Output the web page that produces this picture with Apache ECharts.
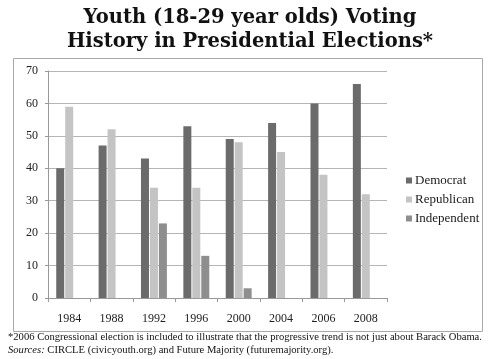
<!DOCTYPE html>
<html><head><meta charset="utf-8">
<script src="https://cdn.jsdelivr.net/npm/echarts@6/dist/echarts.min.js"></script>
<style>html,body{margin:0;padding:0;background:#fff}#c{width:500px;height:359px}</style>
</head><body><div id="c"></div>
<script>
var categories = ['1984','1988','1992','1996','2000','2004','2006','2008'];
var democrat = [40, 47, 43, 53, 49, 54, 60, 66];
var republican = [59, 52, 34, 34, 48, 45, 38, 32];
var independent = [null, null, 23, 13, 3, null, null, null];
var yTicks = [0,10,20,30,40,50,60,70];

var serif = '"Liberation Serif", "DejaVu Serif", serif';
var chart = echarts.init(document.getElementById('c'), null, {renderer:'canvas'});
chart.setOption({
  backgroundColor: '#fff',
  animation: false,
  textStyle: {fontFamily: serif, color: '#222'},
  graphic: [
    {type:'rect', shape:{x:13.5, y:58.5, width:469, height:273}, style:{fill:'none', stroke:'#a8a8a8', lineWidth:1}, z:-1},
    {type:'text', left:'center', top:6, style:{text:'Youth (18-29 year olds) Voting\nHistory in Presidential Elections*', font:'bold 19.5px "DejaVu Serif", serif', fill:'#111', textAlign:'center', lineHeight:24}},
    {type:'text', left:8, top:331, style:{
      text:'*2006 Congressional election is included to illustrate that the progressive trend is not just about Barack Obama.\n{i|Sources:} CIRCLE (civicyouth.org) and Future Majority (futuremajority.org).',
      font:'10.6px '+serif, fill:'#111', lineHeight:13,
      rich:{i:{fontStyle:'italic', fontSize:10.6, fontFamily:serif, fill:'#111'}}}}
  ],
  legend: {
    orient:'vertical', left:401, top:169, itemWidth:6, itemHeight:6, itemGap:6, icon:'rect',
    textStyle:{fontFamily:serif, fontSize:13, color:'#1a1a1a', padding:[0,0,0,-2]},
    data:['Democrat','Republican','Independent']
  },
  grid: {left:48, right:113, top:71, bottom:61},
  xAxis: {
    type:'category', data: categories,
    axisLine:{lineStyle:{color:'#999'}},
    axisTick:{show:true, length:4, lineStyle:{color:'#999'}},
    axisLabel:{fontFamily:serif, fontSize:12, color:'#222', margin:15}
  },
  yAxis: {
    type:'value', min:0, max:70, interval:10,
    axisLine:{show:true, lineStyle:{color:'#999'}},
    axisTick:{show:true, length:3, lineStyle:{color:'#999'}},
    splitLine:{lineStyle:{color:'#b5b5b5'}},
    axisLabel:{fontFamily:serif, fontSize:12, color:'#222', margin:10}
  },
  series: [
    {name:'Democrat', type:'bar', data:democrat, barWidth:8, barGap:'12%', itemStyle:{color:'#6b6b6b'}},
    {name:'Republican', type:'bar', data:republican, barWidth:8, barGap:'12%', itemStyle:{color:'#c4c4c4'}},
    {name:'Independent', type:'bar', data:independent, barWidth:8, barGap:'12%', itemStyle:{color:'#8e8e8e'}}
  ]
});
</script></body></html>
